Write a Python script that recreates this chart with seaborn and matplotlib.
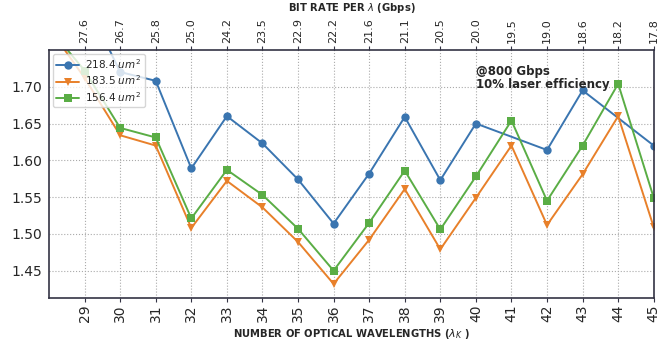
import numpy as np
import pandas as pd
import matplotlib
matplotlib.use("Agg")
import matplotlib.pyplot as plt
import seaborn as sns

# ---- data ----
wavelengths = [28, 29, 30, 31, 32, 33, 34, 35, 36, 37, 38, 39, 40, 41, 42, 43, 44, 45]
bitrate_labels = ["27.6", "26.7", "25.8", "25.0", "24.2", "23.5", "22.9", "22.2", "21.6",
                  "21.1", "20.5", "20.0", "19.5", "19.0", "18.6", "18.2", "17.8"]
bitrate_positions = [29, 30, 31, 32, 33, 34, 35, 36, 37, 38, 39, 40, 41, 42, 43, 44, 45]

blue_x = [28, 29, 30, 31, 32, 33, 34, 35, 36, 37, 38, 39, 40, 42, 43, 45]
blue_y = [1.90, 1.82, 1.720, 1.708, 1.589, 1.660, 1.623, 1.574, 1.514, 1.582, 1.659,
          1.573, 1.650, 1.614, 1.695, 1.620]
orange_y = [1.78, 1.712, 1.634, 1.620, 1.508, 1.572, 1.536, 1.489, 1.432, 1.492, 1.561,
            1.479, 1.549, 1.620, 1.512, 1.581, 1.660, 1.509]
green_y = [1.78, 1.722, 1.644, 1.631, 1.521, 1.587, 1.553, 1.507, 1.450, 1.515, 1.586,
           1.506, 1.578, 1.654, 1.545, 1.620, 1.704, 1.549]
labels = ["218.4 $um^2$", "183.5 $um^2$", "156.4 $um^2$"]

rows = []
for x, y in zip(blue_x, blue_y):
    rows.append((x, y, labels[0]))
for x, y in zip(wavelengths, orange_y):
    rows.append((x, y, labels[1]))
for x, y in zip(wavelengths, green_y):
    rows.append((x, y, labels[2]))
df = pd.DataFrame(rows, columns=["x", "y", "series"])

sns.set_style("white")
plt.rcParams["font.family"] = ["DejaVu Sans"]

fig = plt.figure(figsize=(6.66, 3.42), dpi=100)
ax = fig.add_axes([0.0736, 0.129, 0.908, 0.725])

palette = {labels[0]: "#3a75b0", labels[1]: "#e8802a", labels[2]: "#5aad45"}
markers = {labels[0]: "o", labels[1]: "v", labels[2]: "s"}
sns.lineplot(data=df, x="x", y="y", hue="series", style="series", markers=markers,
             dashes=False, palette=palette, markersize=6, linewidth=1.4,
             markeredgewidth=0, ax=ax, legend=True)

ax.set_xlim(28, 45)
ax.set_ylim(1.413, 1.75)
ax.set_xticks(bitrate_positions)
ax.set_xticklabels([str(v) for v in bitrate_positions], rotation=90, fontsize=10)
ax.set_yticks([1.45, 1.50, 1.55, 1.60, 1.65, 1.70])
ax.set_yticklabels(["1.45", "1.50", "1.55", "1.60", "1.65", "1.70"], fontsize=10)
ax.grid(True, linestyle=":", color="#aaaaaa", linewidth=0.8)
ax.set_xlabel(r"NUMBER OF OPTICAL WAVELENGTHS ($\lambda_K$ )", fontsize=8,
              fontweight="bold", fontstretch="condensed", labelpad=3)
ax.set_ylabel("")
for s in ax.spines.values():
    s.set_color("#333344")
    s.set_linewidth(1.2)
ax.tick_params(axis="both", length=3, color="#333344", pad=2)

ax2 = ax.twiny()
ax2.set_xlim(ax.get_xlim())
ax2.set_xticks(bitrate_positions)
ax2.set_xticklabels(bitrate_labels, rotation=90, fontsize=8)
ax2.set_xlabel(r"BIT RATE PER $\lambda$ (Gbps)", fontsize=7.2, fontweight="bold", labelpad=5)
ax2.tick_params(axis="x", length=3, color="#333344", pad=2)
for s in ax2.spines.values():
    s.set_visible(False)

leg = ax.legend(loc="upper left", fontsize=7.5, frameon=True, borderpad=0.35,
                handlelength=2.2, handletextpad=0.6, labelspacing=0.25, borderaxespad=0.35)
leg.get_frame().set_edgecolor("#cccccc")
leg.set_title(None)

ax.text(40.0, 1.730, "@800 Gbps\n10% laser efficiency", fontsize=8.5,
        fontweight="bold", va="top", ha="left", linespacing=1.0)

fig.savefig("out.png", dpi=100)
